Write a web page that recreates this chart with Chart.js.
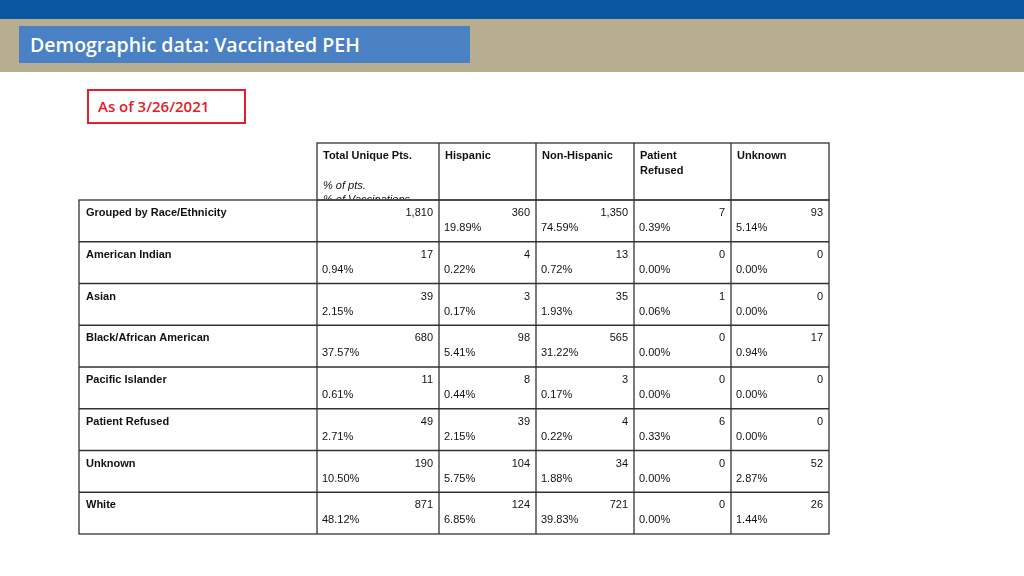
<!DOCTYPE html>
<html><head><meta charset="utf-8">
<script src="https://cdn.jsdelivr.net/npm/chart.js@4"></script>
<style>
body{margin:0;width:1024px;height:576px;background:#fff;position:relative;overflow:hidden;font-family:"Liberation Sans",Arial,sans-serif}
#top{position:absolute;left:0;top:0;width:1024px;height:19px;background:#0a56a0}
#band{position:absolute;left:0;top:19px;width:1024px;height:53px;background:#b9ad90}
#title{position:absolute;left:19px;top:26px;width:451px;height:37px;background:#4a80c4;color:#fff;font:600 19.5px "Open Sans",sans-serif;line-height:37px;padding-left:11px;box-sizing:border-box}
#asof{position:absolute;left:87px;top:89px;width:159px;height:35px;border:2px solid #e0202a;box-sizing:border-box;color:#e0202a;font:600 15px "Open Sans",sans-serif;line-height:31px;padding-left:9px}
#wrap{position:absolute;left:75px;top:139px;width:759px;height:400px}
</style></head><body>
<div id="top"></div><div id="band"></div>
<div id="title">Demographic data: Vaccinated PEH</div>
<div id="asof">As of 3/26/2021</div>
<div id="wrap"><canvas id="tbl"></canvas></div>
<script>
var columns = ["Total Unique Pts.", "Hispanic", "Non-Hispanic", "Patient|Refused", "Unknown"];
var rows = ["Grouped by Race/Ethnicity", "American Indian", "Asian", "Black/African American", "Pacific Islander", "Patient Refused", "Unknown", "White"];
var counts = [
  ["1,810", "360", "1,350", "7", "93"],
  ["17", "4", "13", "0", "0"],
  ["39", "3", "35", "1", "0"],
  ["680", "98", "565", "0", "17"],
  ["11", "8", "3", "0", "0"],
  ["49", "39", "4", "6", "0"],
  ["190", "104", "34", "0", "52"],
  ["871", "124", "721", "0", "26"]
];
var percents = [
  ["", "19.89%", "74.59%", "0.39%", "5.14%"],
  ["0.94%", "0.22%", "0.72%", "0.00%", "0.00%"],
  ["2.15%", "0.17%", "1.93%", "0.06%", "0.00%"],
  ["37.57%", "5.41%", "31.22%", "0.00%", "0.94%"],
  ["0.61%", "0.44%", "0.17%", "0.00%", "0.00%"],
  ["2.71%", "2.15%", "0.22%", "0.33%", "0.00%"],
  ["10.50%", "5.75%", "1.88%", "0.00%", "2.87%"],
  ["48.12%", "6.85%", "39.83%", "0.00%", "1.44%"]
];

// column edges and row edges in table units (pixels of the original)
var colEdges = [0, 238, 360, 457, 555, 652, 750];
var headH = 57, rowH = 41.75;
function rowTop(i) { return headH + rowH * i; }

var tablePlugin = {
  id: 'table',
  afterDraw: function (chart) {
    var c = chart.ctx, xs = chart.scales.x, ys = chart.scales.y;
    var X = function (v) { return xs.getPixelForValue(v); };
    var Y = function (v) { return ys.getPixelForValue(v); };
    c.save();
    c.strokeStyle = '#333'; c.lineWidth = 1.3;
    // header box (columns only)
    c.strokeRect(X(colEdges[1]), Y(0), X(colEdges[6]) - X(colEdges[1]), Y(headH) - Y(0));
    for (var k = 2; k < 6; k++) { c.beginPath(); c.moveTo(X(colEdges[k]), Y(0)); c.lineTo(X(colEdges[k]), Y(headH)); c.stroke(); }
    // body
    var bottom = rowTop(rows.length);
    c.strokeRect(X(0), Y(headH), X(750) - X(0), Y(bottom) - Y(headH));
    for (var i = 1; i < rows.length; i++) { c.beginPath(); c.moveTo(X(0), Y(rowTop(i))); c.lineTo(X(750), Y(rowTop(i))); c.stroke(); }
    for (k = 1; k < 6; k++) { c.beginPath(); c.moveTo(X(colEdges[k]), Y(headH)); c.lineTo(X(colEdges[k]), Y(bottom)); c.stroke(); }
    c.fillStyle = '#111'; c.textBaseline = 'alphabetic';
    // header texts
    c.font = 'bold 11px "Liberation Sans", Arial';
    columns.forEach(function (h, j) {
      h.split('|').forEach(function (ln, m) { c.fillText(ln, X(colEdges[j + 1]) + 6, Y(0) + 16 + m * 15); });
    });
    c.font = 'italic 11px "Liberation Sans", Arial';
    c.fillText('% of pts.', X(colEdges[1]) + 6, Y(0) + 46);
    c.save(); c.beginPath(); c.rect(X(colEdges[1]), Y(0), 120, Y(headH) - Y(0) - 1); c.clip();
    c.fillText('% of Vaccinations', X(colEdges[1]) + 6, Y(0) + 60); c.restore();
    // rows
    rows.forEach(function (r, i) {
      var t = Y(rowTop(i));
      c.font = 'bold 11px "Liberation Sans", Arial'; c.textAlign = 'left';
      c.fillText(r, X(0) + 7, t + 16);
      c.font = '11px "Liberation Sans", Arial';
      for (var j = 0; j < 5; j++) {
        c.textAlign = 'right'; c.fillText(counts[i][j], X(colEdges[j + 2]) - 6, t + 16);
        c.textAlign = 'left'; c.fillText(percents[i][j], X(colEdges[j + 1]) + 5, t + 31);
      }
    });
    c.restore();
  }
};

new Chart(document.getElementById('tbl'), {
  type: 'scatter',
  data: { datasets: [{ data: rows.map(function (r, i) { return { x: 0, y: rowTop(i) }; }), pointRadius: 0 }] },
  options: {
    responsive: true, maintainAspectRatio: false, animation: false,
    layout: { padding: { left: 4, right: 5, top: 4, bottom: 5 } },
    plugins: { legend: { display: false }, tooltip: { enabled: false } },
    scales: {
      x: { type: 'linear', min: 0, max: 750, display: false },
      y: { type: 'linear', min: 0, max: 391, reverse: true, display: false }
    }
  },
  plugins: [tablePlugin]
});
</script>
</body></html>
